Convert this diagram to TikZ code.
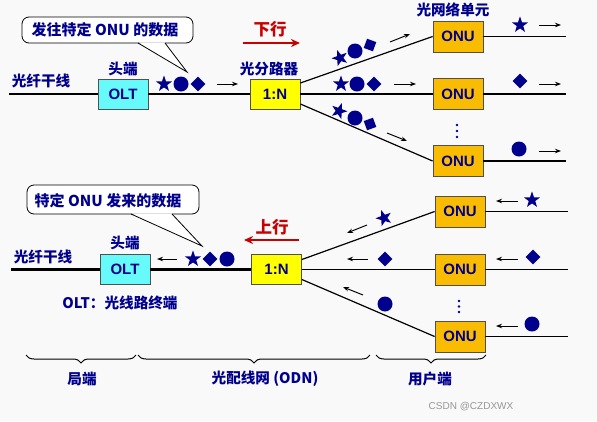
\documentclass[tikz,border=0pt]{standalone}
\usepackage{fontspec}
\setmainfont{Liberation Sans}
\newfontfamily\cjk{Noto Sans CJK SC}
\usetikzlibrary{shapes.geometric,arrows.meta,decorations.pathreplacing,calc}
\definecolor{navy}{RGB}{0,0,140}
\definecolor{bgc}{RGB}{249,249,249}
\definecolor{oltc}{RGB}{102,250,250}
\definecolor{splc}{RGB}{255,255,0}
\definecolor{onuc}{RGB}{250,188,0}
\definecolor{redc}{RGB}{200,0,0}
\definecolor{edgec}{RGB}{80,80,80}
\begin{document}
\begin{tikzpicture}[x=1pt,y=-1pt,
  lbl/.style={text=navy, font=\cjk\bfseries\fontsize{14.6}{16}\selectfont, inner sep=0},
  dirlbl/.style={text=redc, font=\cjk\bfseries\fontsize{16.5}{18}\selectfont, inner sep=0},
  box/.style={draw=edgec, line width=0.8pt, minimum width=50pt, minimum height=30pt, inner sep=0, text=navy, font=\bfseries\fontsize{15}{17}\selectfont},
  oltbox/.style={box, fill=oltc},
  splbox/.style={box, fill=splc},
  onubox/.style={box, fill=onuc, minimum height=31pt},
  trunk/.style={line width=2.2pt, black},
  branch/.style={line width=1.2pt, black},
  sarr/.style={line width=1pt, black, -{Stealth[length=6pt,width=4.5pt]}},
  rarr/.style={line width=2.4pt, redc, -{Stealth[length=9pt,width=8pt]}},
  sstar/.style={star, star points=5, star point ratio=2.5, fill=navy, minimum size=17pt, inner sep=0},
  scirc/.style={circle, fill=navy, minimum size=15pt, inner sep=0},
  sdiam/.style={diamond, aspect=1, fill=navy, minimum size=15pt, inner sep=0},
  sdot/.style={circle, fill=navy, minimum size=2.6pt, inner sep=0},
  callout/.style={draw=black, line width=0.8pt, fill=white, rounded corners=7pt},
  calltext/.style={text=navy, font=\cjk\bfseries\fontsize{15}{17}\selectfont, inner sep=0},
  brc/.style={decorate, decoration={brace, mirror, amplitude=8pt}, line width=1pt}
]
\path[fill=bgc] (0,0) rectangle (597,421);

% ================= DOWNSTREAM =================
% callout
\draw[callout] (22,17) rectangle (193,43);
\coordinate (c1a) at (138,43);
\coordinate (c1b) at (165,43);
\coordinate (c1t) at (187,72);
\fill[white] ($(c1a)+(0.8,-0.6)$) -- (c1t) -- ($(c1b)+(-0.5,-0.6)$) -- cycle;
\draw[line width=0.8pt] (c1a) -- (c1t) -- (c1b);
\node[calltext] (ct1) at (105,30) {发往特定 ONU 的数据};

\node[dirlbl] (dn) at (270,29) {下行};
\coordinate (dna) at (243,43);
\coordinate (dnb) at (300,43);
\draw[rarr] (dna) -- (dnb);

\node[lbl] (fib1) at (41,81) {光纤干线};
\node[lbl] (head1) at (123,69) {头端};
\node[lbl] (splt1) at (269,69) {光分路器};
\node[lbl] (onut1) at (453,10) {光网络单元};

\coordinate (tr1) at (9,94);
\node[oltbox] (olt1) at (123,94) {OLT};
\node[splbox] (spl1) at (275,94) {1:N};
\node[onubox] (onu1a) at (458,36.5) {ONU};
\node[onubox] (onu1b) at (458,94) {ONU};
\node[onubox] (onu1c) at (458,161) {ONU};

\draw[trunk] (tr1) -- (olt1.west);
\draw[trunk] (olt1.east) -- (spl1.west);
\draw[branch] ([yshift=11pt]spl1.east) -- (onu1a.west);
\draw[branch] (spl1.east) -- (onu1b.west);
\draw[branch] ([yshift=-10pt]spl1.east) -- (onu1c.west);

\coordinate (o1a) at (566,36.5);
\coordinate (o1b) at (566,94);
\coordinate (o1c) at (566,161);
\draw[branch] (onu1a.east) -- (o1a);
\draw[branch] (onu1b.east) -- (o1b);
\draw[branch] (onu1c.east) -- (o1c);

% symbols on trunk
\node[sstar] (s1) at (164,84) {};
\node[scirc] (c1) at (181,84) {};
\node[sdiam] (d1) at (198,84) {};
\coordinate (a1s) at (217,84);
\coordinate (a1e) at (238,84);
\draw[sarr] (a1s) -- (a1e);

% top branch
\node[sstar, rotate=20] (s2) at (340,58) {};
\node[scirc] (c2) at (355,51) {};
\node[sdiam, rotate=25, minimum size=14pt] (d2) at (370,45) {};
\coordinate (a2s) at (390,42);
\coordinate (a2e) at (410,34);
\draw[sarr] (a2s) -- (a2e);
% middle branch
\node[sstar] (s3) at (341,84) {};
\node[scirc] (c3) at (357,84) {};
\node[sdiam] (d3) at (374,84) {};
\coordinate (a3s) at (394,84);
\coordinate (a3e) at (416,84);
\draw[sarr] (a3s) -- (a3e);
% bottom branch
\node[sstar, rotate=-20] (s4) at (339,111) {};
\node[scirc] (c4) at (355,118) {};
\node[sdiam, rotate=-25, minimum size=14pt] (d4) at (370,124) {};
\coordinate (a4s) at (387,133);
\coordinate (a4e) at (407,141);
\draw[sarr] (a4s) -- (a4e);

\node[sdot] (dt1) at (457,125) {};
\node[sdot] (dt2) at (457,131) {};
\node[sdot] (dt3) at (457,137) {};

% outputs
\node[sstar] (s5) at (520,25) {};
\coordinate (a5s) at (539,25);
\coordinate (a5e) at (561,25);
\draw[sarr] (a5s) -- (a5e);
\node[sdiam] (d5) at (520,81) {};
\coordinate (a6s) at (539,84);
\coordinate (a6e) at (561,84);
\draw[sarr] (a6s) -- (a6e);
\node[scirc] (c5) at (519,149) {};
\coordinate (a7s) at (539,151);
\coordinate (a7e) at (561,151);
\draw[sarr] (a7s) -- (a7e);

% ================= UPSTREAM =================
\draw[callout] (27,185) rectangle (199,214);
\coordinate (c2a) at (131,214);
\coordinate (c2b) at (172,214);
\coordinate (c2t) at (202,246);
\fill[white] ($(c2a)+(0.8,-0.6)$) -- (c2t) -- ($(c2b)+(-0.5,-0.6)$) -- cycle;
\draw[line width=0.8pt] (c2a) -- (c2t) -- (c2b);
\node[calltext] (ct2) at (108,201) {特定 ONU 发来的数据};

\node[dirlbl] (up) at (272,227) {上行};
\coordinate (upa) at (299,240);
\coordinate (upb) at (244,240);
\draw[rarr] (upa) -- (upb);

\node[lbl] (fib2) at (43,257) {光纤干线};
\node[lbl] (head2) at (125,243) {头端};
\node[lbl] (oltdef) at (120,303) {OLT：光线路终端};

\coordinate (tr2) at (11,269.5);
\node[oltbox] (olt2) at (125,269.5) {OLT};
\node[splbox] (spl2) at (276.5,269.5) {1:N};
\node[onubox] (onu2a) at (460,211.5) {ONU};
\node[onubox] (onu2b) at (460,269.5) {ONU};
\node[onubox] (onu2c) at (460,336.5) {ONU};

\draw[trunk] (tr2) -- (olt2.west);
\draw[trunk] (olt2.east) -- (spl2.west);
\draw[branch] ([yshift=10pt]spl2.east) -- (onu2a.west);
\draw[branch] (spl2.east) -- (onu2b.west);
\draw[branch] ([yshift=-10pt]spl2.east) -- (onu2c.west);

\coordinate (o2a) at (568,211.5);
\coordinate (o2b) at (568,269.5);
\coordinate (o2c) at (568,336.5);
\draw[branch] (onu2a.east) -- (o2a);
\draw[branch] (onu2b.east) -- (o2b);
\draw[branch] (onu2c.east) -- (o2c);

% trunk symbols
\coordinate (b1s) at (177,259);
\coordinate (b1e) at (157,259);
\draw[sarr] (b1s) -- (b1e);
\node[sstar] (s6) at (193,259) {};
\node[sdiam] (d6) at (210,259) {};
\node[scirc] (c6) at (227,259) {};

% branches
\node[sstar, rotate=20] (s7) at (384,218) {};
\coordinate (b2s) at (367,225);
\coordinate (b2e) at (347,233);
\draw[sarr] (b2s) -- (b2e);
\node[sdiam] (d7) at (385,259) {};
\coordinate (b3s) at (368,259);
\coordinate (b3e) at (347,259);
\draw[sarr] (b3s) -- (b3e);
\node[scirc] (c7) at (385,304) {};
\coordinate (b4s) at (363,295);
\coordinate (b4e) at (343,287);
\draw[sarr] (b4s) -- (b4e);

\node[sdot] (dt4) at (459,301) {};
\node[sdot] (dt5) at (459,306.5) {};
\node[sdot] (dt6) at (459,312) {};

% inputs
\node[sstar] (s8) at (532,200) {};
\coordinate (b5s) at (518,201);
\coordinate (b5e) at (496,201);
\draw[sarr] (b5s) -- (b5e);
\node[sdiam] (d8) at (533,257) {};
\coordinate (b6s) at (518,259);
\coordinate (b6e) at (496,259);
\draw[sarr] (b6s) -- (b6e);
\node[scirc] (c8) at (532,324) {};
\coordinate (b7s) at (518,326);
\coordinate (b7e) at (496,326);
\draw[sarr] (b7s) -- (b7e);

% ================= BRACES =================
\coordinate (br1a) at (26,355);
\coordinate (br1b) at (136,355);
\coordinate (br2a) at (138,355);
\coordinate (br2b) at (370,355);
\coordinate (br3a) at (376,355);
\coordinate (br3b) at (486,355);
\draw[brc] (br1a) -- (br1b);
\draw[brc] (br2a) -- (br2b);
\draw[brc] (br3a) -- (br3b);
\node[lbl] (z1) at (82,379) {局端};
\node[lbl] (z2) at (265,379) {光配线网 (ODN)};
\node[lbl] (z3) at (430,379) {用户端};

\node[text={rgb,255:red,150;green,150;blue,150}, font=\fontsize{10}{12}\selectfont, inner sep=0] (wm) at (471,407) {CSDN @CZDXWX};
\end{tikzpicture}
\end{document}
